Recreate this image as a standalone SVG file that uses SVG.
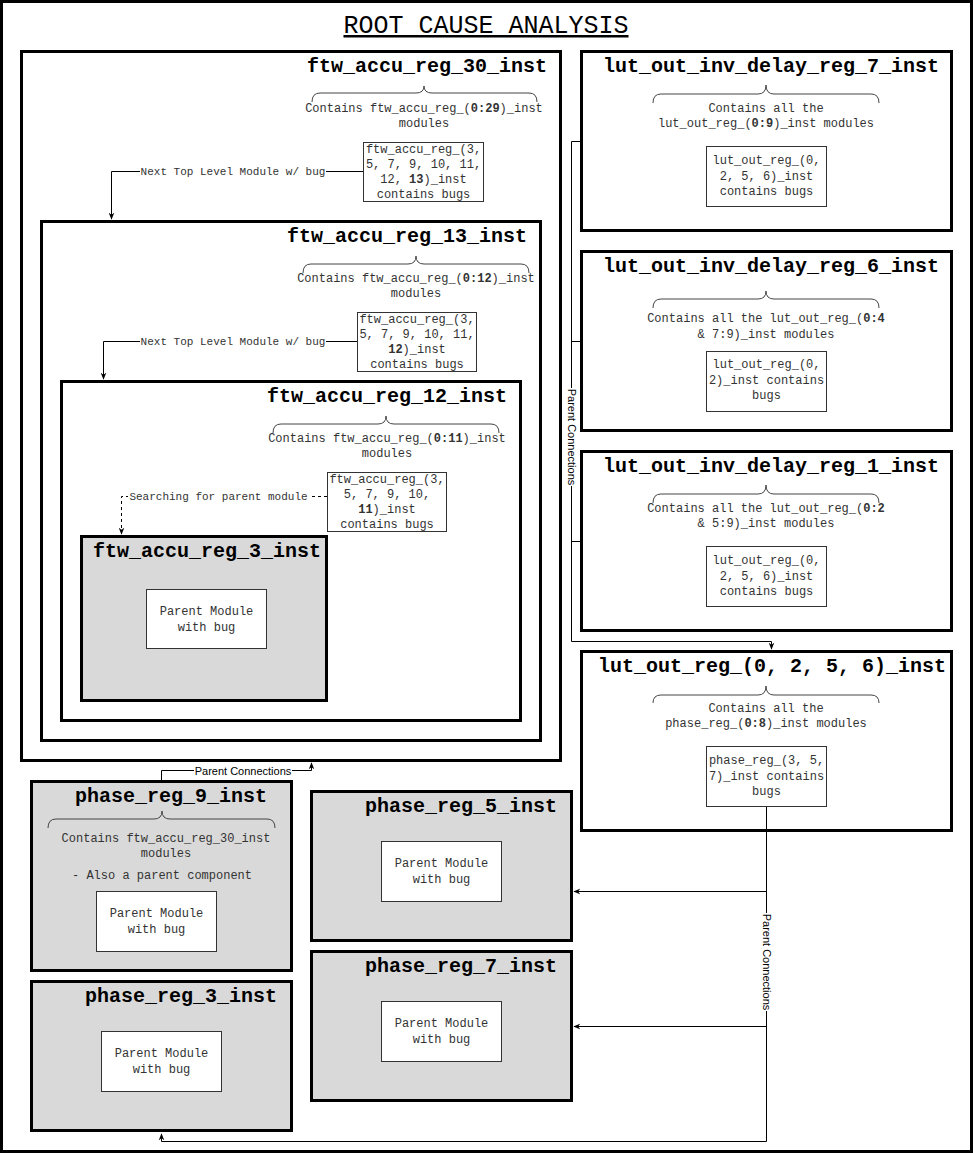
<svg xmlns="http://www.w3.org/2000/svg" width="973" height="1153" viewBox="0 0 973 1153">
<style>
.frame{fill:#fff;stroke:#000;stroke-width:3}
.gray{fill:#d9d9d9;stroke:#000;stroke-width:3}
.title{font-family:"Liberation Mono","Courier New",monospace;font-weight:bold;font-size:20px;fill:#000}
.t{font-family:"Liberation Mono","Courier New",monospace;font-size:12px;fill:#333;text-anchor:middle}
.lbl{font-family:"Liberation Mono","Courier New",monospace;font-size:11px;fill:#333;text-anchor:middle}
.slbl{font-family:"Liberation Sans",Arial,sans-serif;font-size:11px;fill:#000;text-anchor:middle}
.box{fill:#fff;stroke:#333;stroke-width:1}
.brace{fill:none;stroke:#444;stroke-width:1}
.edge{fill:none;stroke:#000;stroke-width:1}
.dash{stroke-dasharray:3 3}
.b{font-weight:bold}
</style>
<defs>
<marker id="arr" viewBox="0 0 10 10" refX="9" refY="5" markerWidth="7" markerHeight="7" markerUnits="userSpaceOnUse" orient="auto">
<path d="M0,1 L10,5 L0,9 L3,5 z" fill="#000"/>
</marker>
</defs>

<rect x="1.5" y="1.5" width="970" height="1150" fill="#fff" stroke="#000" stroke-width="3"/>
<text x="486" y="33" text-anchor="middle" font-family="Liberation Mono, Courier New, monospace" font-size="25" text-decoration="underline" fill="#000">ROOT CAUSE ANALYSIS</text>

<g id="ftw_accu_reg_30_inst">
<rect class="frame" x="21.5" y="51.5" width="539" height="709"/>
<text class="title" x="307" y="72">ftw_accu_reg_30_inst</text>
<path class="brace" d="M312,102 Q312,93 320,93 H416 Q424,93 424,86 Q424,93 432,93 H529 Q537,93 537,102"/>
<text class="t" x="424" y="112">Contains ftw_accu_reg_(<tspan class="b">0:29</tspan>)_inst</text>
<text class="t" x="424" y="127">modules</text>
<rect class="box" x="363.5" y="142.5" width="120" height="59"/>
<text class="t" x="423.5" y="153">ftw_accu_reg_(3,</text>
<text class="t" x="423.5" y="168">5, 7, 9, 10, 11,</text>
<text class="t" x="423.5" y="183">12, <tspan class="b">13</tspan>)_inst</text>
<text class="t" x="423.5" y="198">contains bugs</text>
</g>

<g id="ftw_accu_reg_13_inst">
<rect class="frame" x="41.5" y="221.5" width="499" height="519"/>
<text class="title" x="287" y="242">ftw_accu_reg_13_inst</text>
<path class="brace" d="M303,273 Q303,264 311,264 H408 Q416,264 416,256 Q416,264 424,264 H521 Q529,264 529,273"/>
<text class="t" x="416" y="282">Contains ftw_accu_reg_(<tspan class="b">0:12</tspan>)_inst</text>
<text class="t" x="416" y="297">modules</text>
<rect class="box" x="357.5" y="312.5" width="119" height="59"/>
<text class="t" x="417" y="323">ftw_accu_reg_(3,</text>
<text class="t" x="417" y="338">5, 7, 9, 10, 11,</text>
<text class="t" x="417" y="353"><tspan class="b">12</tspan>)_inst</text>
<text class="t" x="417" y="368">contains bugs</text>
</g>

<g id="ftw_accu_reg_12_inst">
<rect class="frame" x="61.5" y="381.5" width="459" height="339"/>
<text class="title" x="267" y="402">ftw_accu_reg_12_inst</text>
<path class="brace" d="M273,433 Q273,424 281,424 H378 Q386,424 386,416 Q386,424 394,424 H491 Q499,424 499,433"/>
<text class="t" x="387" y="442">Contains ftw_accu_reg_(<tspan class="b">0:11</tspan>)_inst</text>
<text class="t" x="387" y="457">modules</text>
<rect class="box" x="327.5" y="472.5" width="119" height="59"/>
<text class="t" x="387" y="483">ftw_accu_reg_(3,</text>
<text class="t" x="387" y="498">5, 7, 9, 10,</text>
<text class="t" x="387" y="513"><tspan class="b">11</tspan>)_inst</text>
<text class="t" x="387" y="528">contains bugs</text>
</g>

<g id="ftw_accu_reg_3_inst">
<rect class="gray" x="81.5" y="536.5" width="245" height="164"/>
<text class="title" x="93" y="557">ftw_accu_reg_3_inst</text>
<rect class="box" x="146.5" y="589.5" width="120" height="59"/>
<text class="t" x="206.5" y="615">Parent Module</text>
<text class="t" x="206.5" y="631">with bug</text>
</g>

<g id="lut_out_inv_delay_reg_7_inst">
<rect class="frame" x="581.5" y="51.5" width="370" height="179"/>
<text class="title" x="603" y="72">lut_out_inv_delay_reg_7_inst</text>
<path class="brace" d="M653,103 Q653,94 661,94 H758 Q766,94 766,85 Q766,94 774,94 H871 Q879,94 879,103"/>
<text class="t" x="766" y="112">Contains all the</text>
<text class="t" x="766" y="127">lut_out_reg_(<tspan class="b">0:9</tspan>)_inst modules</text>
<rect class="box" x="706.5" y="146.5" width="120" height="60"/>
<text class="t" x="766.5" y="164">lut_out_reg_(0,</text>
<text class="t" x="766.5" y="180">2, 5, 6)_inst</text>
<text class="t" x="766.5" y="195">contains bugs</text>
</g>

<g id="lut_out_inv_delay_reg_6_inst">
<rect class="frame" x="581.5" y="251.5" width="370" height="179"/>
<text class="title" x="603" y="272">lut_out_inv_delay_reg_6_inst</text>
<path class="brace" d="M653,308 Q653,299 661,299 H758 Q766,299 766,291 Q766,299 774,299 H871 Q879,299 879,308"/>
<text class="t" x="766" y="322">Contains all the lut_out_reg_(<tspan class="b">0:4</tspan></text>
<text class="t" x="766" y="338">&amp; 7:9)_inst modules</text>
<rect class="box" x="706.5" y="351.5" width="120" height="60"/>
<text class="t" x="766.5" y="368">lut_out_reg_(0,</text>
<text class="t" x="766.5" y="384">2)_inst contains</text>
<text class="t" x="766.5" y="399">bugs</text>
</g>

<g id="lut_out_inv_delay_reg_1_inst">
<rect class="frame" x="581.5" y="451.5" width="370" height="179"/>
<text class="title" x="603" y="472">lut_out_inv_delay_reg_1_inst</text>
<path class="brace" d="M653,503 Q653,494 661,494 H758 Q766,494 766,485 Q766,494 774,494 H871 Q879,494 879,503"/>
<text class="t" x="766" y="512">Contains all the lut_out_reg_(<tspan class="b">0:2</tspan></text>
<text class="t" x="766" y="527">&amp; 5:9)_inst modules</text>
<rect class="box" x="706.5" y="546.5" width="120" height="60"/>
<text class="t" x="766.5" y="564">lut_out_reg_(0,</text>
<text class="t" x="766.5" y="580">2, 5, 6)_inst</text>
<text class="t" x="766.5" y="595">contains bugs</text>
</g>

<g id="lut_out_reg_0_2_5_6_inst">
<rect class="frame" x="581.5" y="651.5" width="370" height="179"/>
<text class="title" x="598" y="672">lut_out_reg_(0, 2, 5, 6)_inst</text>
<path class="brace" d="M653,703 Q653,695 661,695 H758 Q766,695 766,686 Q766,695 774,695 H871 Q879,695 879,703"/>
<text class="t" x="766" y="712">Contains all the</text>
<text class="t" x="766" y="727">phase_reg_(<tspan class="b">0:8</tspan>)_inst modules</text>
<rect class="box" x="706.5" y="746.5" width="120" height="60"/>
<text class="t" x="766.5" y="764">phase_reg_(3, 5,</text>
<text class="t" x="766.5" y="780">7)_inst contains</text>
<text class="t" x="766.5" y="795">bugs</text>
</g>

<g id="phase_reg_9_inst">
<rect class="gray" x="31.5" y="781.5" width="260" height="189"/>
<text class="title" x="75" y="802">phase_reg_9_inst</text>
<path class="brace" d="M48,828 Q48,819 56,819 H154 Q162,819 162,811 Q162,819 170,819 H267 Q275,819 275,828"/>
<text class="t" x="166" y="842">Contains ftw_accu_reg_30_inst</text>
<text class="t" x="166" y="857">modules</text>
<text class="t" x="162" y="879">- Also a parent component</text>
<rect class="box" x="96.5" y="891.5" width="120" height="60"/>
<text class="t" x="156.5" y="917">Parent Module</text>
<text class="t" x="156.5" y="933">with bug</text>
</g>

<g id="phase_reg_3_inst">
<rect class="gray" x="31.5" y="981.5" width="260" height="149"/>
<text class="title" x="85" y="1002">phase_reg_3_inst</text>
<rect class="box" x="101.5" y="1031.5" width="120" height="60"/>
<text class="t" x="161.5" y="1057">Parent Module</text>
<text class="t" x="161.5" y="1073">with bug</text>
</g>

<g id="phase_reg_5_inst">
<rect class="gray" x="311.5" y="791.5" width="260" height="149"/>
<text class="title" x="365" y="812">phase_reg_5_inst</text>
<rect class="box" x="381.5" y="841.5" width="120" height="60"/>
<text class="t" x="441.5" y="867">Parent Module</text>
<text class="t" x="441.5" y="883">with bug</text>
</g>

<g id="phase_reg_7_inst">
<rect class="gray" x="311.5" y="951.5" width="260" height="149"/>
<text class="title" x="365" y="972">phase_reg_7_inst</text>
<rect class="box" x="381.5" y="1001.5" width="120" height="60"/>
<text class="t" x="441.5" y="1027">Parent Module</text>
<text class="t" x="441.5" y="1043">with bug</text>
</g>

<g id="connectors">
<path class="edge" d="M363,171.5 H111.5 V219" marker-end="url(#arr)"/>
<rect x="140" y="165" width="186" height="13" fill="#fff"/>
<text class="lbl" x="233" y="175">Next Top Level Module w/ bug</text>

<path class="edge" d="M357,341.5 H103.5 V379" marker-end="url(#arr)"/>
<rect x="140" y="335" width="186" height="13" fill="#fff"/>
<text class="lbl" x="233" y="345">Next Top Level Module w/ bug</text>

<path class="edge dash" d="M327,496.5 H121.5 V534" marker-end="url(#arr)"/>
<rect x="128" y="490" width="181" height="13" fill="#fff"/>
<text class="lbl" x="218.5" y="500">Searching for parent module</text>

<path class="edge" d="M161.5,780 V770.5 H311.5 V763" marker-end="url(#arr)"/>
<rect x="194" y="764" width="98" height="13" fill="#fff"/>
<text class="slbl" x="243" y="774.5">Parent Connections</text>

<path class="edge" d="M580,141.5 H571.5 V641.5 H771.5 V649" marker-end="url(#arr)"/>
<path class="edge" d="M580,341.5 H571.5"/>
<path class="edge" d="M580,541.5 H571.5"/>
<g transform="translate(571.5,437) rotate(90)">
<rect x="-49" y="-6.5" width="98" height="13" fill="#fff"/>
<text class="slbl" x="0" y="4">Parent Connections</text>
</g>

<path class="edge" d="M766.5,807 V1141.5 H161.5 V1134" marker-end="url(#arr)"/>
<path class="edge" d="M766.5,891.5 H574" marker-end="url(#arr)"/>
<path class="edge" d="M766.5,1026.5 H574" marker-end="url(#arr)"/>
<g transform="translate(766.5,962) rotate(90)">
<rect x="-49" y="-6.5" width="98" height="13" fill="#fff"/>
<text class="slbl" x="0" y="4">Parent Connections</text>
</g>
</g>
</svg>
